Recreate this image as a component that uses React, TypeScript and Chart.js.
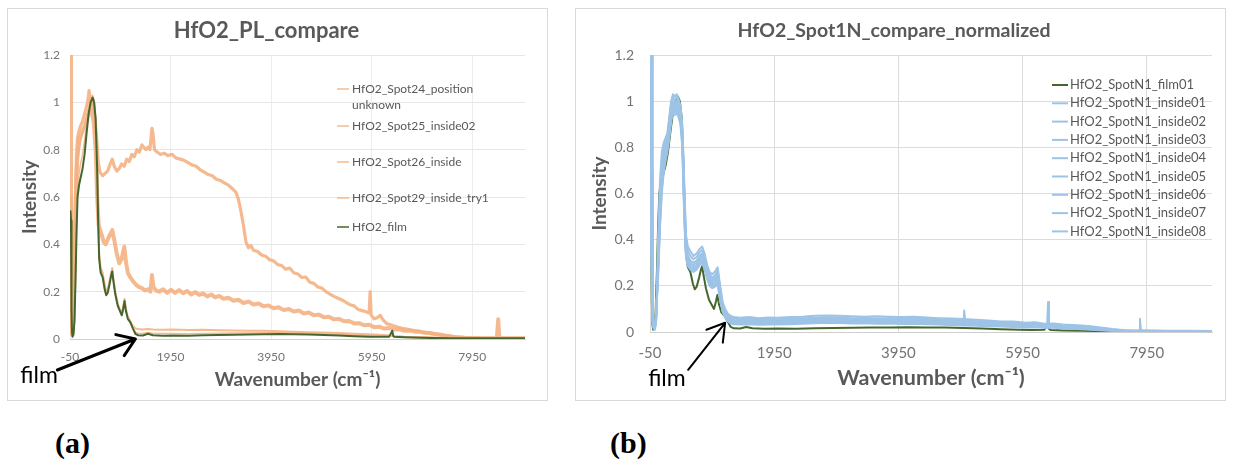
import React, { useEffect, useRef } from 'react';
import { Chart, registerables } from 'chart.js';

Chart.register(...registerables);

const FONT = "Lato, 'DejaVu Sans', sans-serif";

// ---------- axes ----------
const xTicks = [-50, 1950, 3950, 5950, 7950];
const xTickLabels = ['-50', '1950', '3950', '5950', '7950'];
const yTicks = [0, 0.2, 0.4, 0.6, 0.8, 1, 1.2];
const yTickLabels = ['0', '0.2', '0.4', '0.6', '0.8', '1', '1.2'];
const X_MIN = -50;
const X_MAX = 9000;
const Y_MIN = 0;
const Y_MAX = 1.2;

const titleA = 'HfO2_PL_compare';
const titleB = 'HfO2_Spot1N_compare_normalized';
const xTitle = 'Wavenumber (cm\u207B\u00B9)';
const yTitle = 'Intensity';
const annotText = 'film';
const captions = ['(a)', '(b)'];

const labelsA = [
  'HfO2_Spot24_position\nunknown',
  'HfO2_Spot25_inside02',
  'HfO2_Spot26_inside',
  'HfO2_Spot29_inside_try1',
  'HfO2_film',
];
const labelsB = [
  'HfO2_SpotN1_film01',
  'HfO2_SpotN1_inside01',
  'HfO2_SpotN1_inside02',
  'HfO2_SpotN1_inside03',
  'HfO2_SpotN1_inside04',
  'HfO2_SpotN1_inside05',
  'HfO2_SpotN1_inside06',
  'HfO2_SpotN1_inside07',
  'HfO2_SpotN1_inside08',
];

// ---------- film spectrum (shared x grid, also used by Spot26 / Spot29) ----------
const xFilm = [-50, -40, -30, -20, -10, 0, 20, 40, 60, 80,
  100, 130, 160, 200, 240, 280, 320, 360, 400, 430,
  460, 490, 510, 530, 560, 600, 640, 670, 700, 740,
  770, 790, 810, 850, 900, 950, 980, 1010, 1035, 1060,
  1100, 1150, 1200, 1250, 1300, 1400, 1500, 1600, 1800, 2000,
  2300, 2600, 2900, 3200, 3500, 3800, 4100, 4400, 4700, 5000,
  5300, 5600, 5900, 6100, 6300, 6360, 6380, 6400, 6600, 6900,
  7200, 7500, 7800, 8100, 8400, 8700, 9000];
const yFilm = [0.46, 0.54, 0.5, 0.12, 0.03, 0.01, 0.02, 0.08, 0.25, 0.45,
  0.6, 0.65, 0.68, 0.72, 0.78, 0.87, 0.95, 1.0, 1.02, 1.0,
  0.93, 0.72, 0.5, 0.34, 0.28, 0.26, 0.21, 0.185, 0.195, 0.235,
  0.27, 0.285, 0.25, 0.19, 0.14, 0.115, 0.1, 0.13, 0.16, 0.12,
  0.085, 0.07, 0.045, 0.022, 0.016, 0.015, 0.022, 0.016, 0.014, 0.015,
  0.014, 0.016, 0.017, 0.018, 0.019, 0.02, 0.021, 0.02, 0.019, 0.017,
  0.015, 0.012, 0.01, 0.009, 0.01, 0.035, 0.012, 0.009, 0.007, 0.005,
  0.004, 0.003, 0.003, 0.003, 0.003, 0.003, 0.003];
const yS26 = [0.55, 0.6, 0.45, 0.1, 0.03, 0.02, 0.05, 0.2, 0.45, 0.65,
  0.75, 0.8, 0.84, 0.87, 0.9, 0.93, 0.97, 1.0, 1.0, 0.97,
  0.9, 0.7, 0.5, 0.36, 0.3, 0.28, 0.23, 0.2, 0.21, 0.25,
  0.28, 0.3, 0.26, 0.2, 0.15, 0.12, 0.11, 0.14, 0.17, 0.13,
  0.095, 0.075, 0.055, 0.045, 0.042, 0.04, 0.042, 0.04, 0.039, 0.04,
  0.038, 0.039, 0.037, 0.036, 0.035, 0.035, 0.033, 0.031, 0.029, 0.027,
  0.025, 0.022, 0.02, 0.018, 0.015, 0.015, 0.014, 0.013, 0.01, 0.008,
  0.006, 0.005, 0.004, 0.003, 0.003, 0.003, 0.003];
const yS29 = [0.5, 0.56, 0.52, 0.1, 0.03, 0.01, 0.03, 0.1, 0.3, 0.5,
  0.64, 0.7, 0.74, 0.78, 0.84, 0.9, 0.97, 1.02, 1.03, 1.01,
  0.94, 0.74, 0.52, 0.35, 0.29, 0.27, 0.22, 0.19, 0.2, 0.24,
  0.275, 0.29, 0.255, 0.195, 0.145, 0.12, 0.105, 0.135, 0.165, 0.125,
  0.09, 0.072, 0.048, 0.028, 0.024, 0.023, 0.028, 0.024, 0.023, 0.023,
  0.022, 0.023, 0.024, 0.025, 0.025, 0.026, 0.026, 0.025, 0.024, 0.022,
  0.02, 0.017, 0.014, 0.012, 0.012, 0.014, 0.012, 0.011, 0.009, 0.007,
  0.005, 0.004, 0.003, 0.003, 0.003, 0.003, 0.003];

// ---------- Spot24 (upper orange) ----------
const xS24 = [-50, -40, -35, -28, -22, -10, 0, 20, 40, 60,
  80, 100, 130, 160, 200, 250, 300, 330, 360, 400,
  440, 480, 510, 540, 560, 600, 650, 700, 750, 790,
  830, 880, 930, 980, 1030, 1080, 1130, 1180, 1230, 1280,
  1330, 1380, 1420, 1460, 1500, 1540, 1580, 1600, 1630, 1680,
  1750, 1820, 1900, 1980, 2060, 2140, 2220, 2300, 2380, 2460,
  2540, 2620, 2700, 2780, 2860, 2940, 3020, 3100, 3180, 3250,
  3300, 3350, 3400, 3450, 3500, 3550, 3600, 3680, 3760, 3840,
  3920, 4000, 4080, 4160, 4240, 4320, 4400, 4480, 4560, 4640,
  4720, 4800, 4880, 4960, 5040, 5120, 5200, 5280, 5360, 5440,
  5520, 5600, 5680, 5760, 5840, 5900, 5920, 5940, 6000, 6060,
  6120, 6180, 6250, 6330, 6400, 6480, 6560, 6650, 6750, 6850,
  6950, 7100, 7250, 7400, 7550, 7700, 7900, 8200, 8500, 9000];
const yS24 = [0.57, 0.62, 1.5, 1.5, 0.06, 0.02, 0.02, 0.1, 0.35, 0.62,
  0.78, 0.85, 0.88, 0.9, 0.92, 0.96, 1.0, 1.05, 1.0, 0.98,
  0.94, 0.85, 0.75, 0.71, 0.7, 0.69, 0.7, 0.71, 0.74, 0.76,
  0.73, 0.71, 0.72, 0.74, 0.73, 0.76, 0.75, 0.78, 0.77, 0.8,
  0.79, 0.82, 0.81, 0.8, 0.81, 0.8, 0.89, 0.87, 0.8, 0.79,
  0.78, 0.785, 0.775, 0.78, 0.765, 0.76, 0.755, 0.745, 0.735, 0.73,
  0.715, 0.705, 0.695, 0.69, 0.675, 0.67, 0.66, 0.65, 0.635, 0.62,
  0.59, 0.54, 0.48, 0.41, 0.385, 0.395, 0.375, 0.37, 0.355, 0.35,
  0.335, 0.33, 0.315, 0.31, 0.295, 0.3, 0.28, 0.275, 0.26, 0.262,
  0.24, 0.235, 0.22, 0.215, 0.2, 0.19, 0.18, 0.172, 0.165, 0.155,
  0.145, 0.14, 0.125, 0.12, 0.115, 0.11, 0.2, 0.1, 0.085, 0.09,
  0.1, 0.08, 0.065, 0.06, 0.055, 0.05, 0.045, 0.042, 0.038, 0.035,
  0.03, 0.026, 0.02, 0.015, 0.01, 0.006, 0.004, 0.003, 0.003, 0.003];

// ---------- Spot25 (0.2 band orange) ----------
const xS25 = [-50, -40, -30, -20, -10, 0, 20, 40, 60, 80,
  100, 130, 160, 200, 250, 300, 340, 380, 420, 460,
  490, 520, 550, 580, 620, 660, 700, 740, 790, 830,
  880, 930, 980, 1030, 1060, 1100, 1150, 1200, 1260, 1320,
  1380, 1440, 1500, 1550, 1580, 1610, 1660, 1720, 1800, 1880,
  1960, 2040, 2120, 2200, 2280, 2360, 2440, 2520, 2600, 2680,
  2760, 2840, 2920, 3000, 3100, 3200, 3300, 3400, 3500, 3600,
  3700, 3800, 3900, 4000, 4100, 4200, 4300, 4400, 4500, 4600,
  4700, 4800, 4900, 5000, 5100, 5200, 5300, 5400, 5500, 5600,
  5700, 5800, 5900, 6000, 6100, 6200, 6300, 6400, 6500, 6600,
  6700, 6800, 6900, 7000, 7100, 7200, 7300, 7400, 7500, 7600,
  7700, 7800, 8000, 8200, 8440, 8467, 8490, 8700, 9000];
const yS25 = [0.55, 0.58, 0.4, 0.08, 0.02, 0.02, 0.08, 0.3, 0.55, 0.7,
  0.78, 0.84, 0.86, 0.88, 0.9, 0.94, 0.97, 0.96, 0.92, 0.8,
  0.6, 0.48, 0.46, 0.44, 0.41, 0.4, 0.42, 0.44, 0.46, 0.42,
  0.36, 0.32, 0.34, 0.39, 0.33, 0.28, 0.26, 0.245, 0.23, 0.22,
  0.215, 0.205, 0.21, 0.2, 0.27, 0.22, 0.205, 0.2, 0.21, 0.195,
  0.208, 0.195, 0.207, 0.193, 0.203, 0.188, 0.198, 0.186, 0.192, 0.18,
  0.188, 0.176, 0.182, 0.17, 0.174, 0.162, 0.166, 0.152, 0.158, 0.146,
  0.15, 0.138, 0.142, 0.13, 0.134, 0.122, 0.127, 0.116, 0.12, 0.108,
  0.112, 0.1, 0.103, 0.092, 0.094, 0.083, 0.085, 0.075, 0.076, 0.066,
  0.067, 0.058, 0.06, 0.05, 0.052, 0.044, 0.046, 0.04, 0.041, 0.035,
  0.036, 0.031, 0.031, 0.026, 0.025, 0.021, 0.019, 0.015, 0.012, 0.009,
  0.007, 0.005, 0.004, 0.003, 0.003, 0.083, 0.003, 0.003, 0.003];

// ---------- panel (b): blue "inside" spectra on a shared x grid ----------
const xB = [-50, -40, -25, -15, -5, 10, 30, 50, 80, 110,
  140, 170, 200, 230, 260, 290, 320, 350, 380, 410,
  440, 470, 490, 510, 530, 560, 600, 650, 700, 750,
  790, 830, 870, 910, 950, 990, 1040, 1080, 1120, 1160,
  1200, 1250, 1300, 1400, 1550, 1700, 1850, 2000, 2200, 2400,
  2600, 2800, 3000, 3200, 3400, 3600, 3800, 4000, 4200, 4400,
  4600, 4800, 5000, 5200, 5400, 5600, 5800, 6000, 6150, 6300,
  6450, 6600, 6750, 6900, 7050, 7200, 7400, 7600, 7800, 8000,
  8300, 8600, 9000];
const yIn01 = [0.85, 0.8, 1.5, 1.5, 0.1, 0.02, 0.01, 0.06, 0.4, 0.65,
  0.78, 0.82, 0.84, 0.86, 0.93, 1.0, 1.03, 1.02, 1.03, 1.01,
  0.98, 0.9, 0.75, 0.58, 0.42, 0.37, 0.35, 0.33, 0.34, 0.36,
  0.37, 0.34, 0.29, 0.26, 0.25, 0.26, 0.28, 0.2, 0.13, 0.1,
  0.08, 0.07, 0.065, 0.062, 0.065, 0.06, 0.063, 0.062, 0.065, 0.066,
  0.07, 0.072, 0.07, 0.068, 0.066, 0.068, 0.066, 0.065, 0.066, 0.063,
  0.06, 0.058, 0.056, 0.053, 0.05, 0.046, 0.045, 0.04, 0.042, 0.036,
  0.037, 0.032, 0.03, 0.028, 0.025, 0.02, 0.013, 0.008, 0.006, 0.006,
  0.005, 0.005, 0.004];
const yIn02 = [0.8, 0.75, 0.9, 0.7, 0.08, 0.02, 0.015, 0.05, 0.35, 0.6,
  0.74, 0.8, 0.83, 0.85, 0.92, 0.99, 1.02, 1.0, 1.02, 1.0,
  0.97, 0.88, 0.72, 0.55, 0.4, 0.35, 0.33, 0.315, 0.325, 0.345,
  0.355, 0.325, 0.28, 0.25, 0.235, 0.245, 0.265, 0.19, 0.12, 0.09,
  0.072, 0.062, 0.058, 0.055, 0.058, 0.054, 0.057, 0.055, 0.058, 0.06,
  0.062, 0.064, 0.063, 0.06, 0.061, 0.059, 0.06, 0.058, 0.059, 0.056,
  0.054, 0.052, 0.05, 0.047, 0.045, 0.041, 0.04, 0.036, 0.038, 0.032,
  0.033, 0.028, 0.027, 0.024, 0.021, 0.017, 0.011, 0.007, 0.005, 0.005,
  0.004, 0.004, 0.004];
const yIn03 = [0.75, 0.7, 0.6, 0.5, 0.06, 0.015, 0.02, 0.06, 0.3, 0.55,
  0.7, 0.78, 0.82, 0.84, 0.9, 0.97, 1.0, 0.99, 1.0, 0.98,
  0.95, 0.86, 0.7, 0.52, 0.38, 0.33, 0.31, 0.3, 0.31, 0.33,
  0.34, 0.31, 0.27, 0.24, 0.225, 0.235, 0.25, 0.18, 0.115, 0.085,
  0.066, 0.056, 0.052, 0.05, 0.052, 0.049, 0.051, 0.05, 0.052, 0.054,
  0.056, 0.058, 0.057, 0.055, 0.056, 0.054, 0.055, 0.053, 0.054, 0.051,
  0.049, 0.047, 0.045, 0.043, 0.04, 0.037, 0.035, 0.032, 0.034, 0.029,
  0.03, 0.025, 0.024, 0.021, 0.018, 0.014, 0.009, 0.006, 0.004, 0.004,
  0.003, 0.003, 0.003];
const yIn04 = [0.7, 0.65, 0.5, 0.35, 0.05, 0.015, 0.02, 0.07, 0.28, 0.52,
  0.68, 0.76, 0.8, 0.83, 0.89, 0.96, 0.99, 0.98, 0.99, 0.97,
  0.94, 0.85, 0.68, 0.5, 0.36, 0.32, 0.3, 0.29, 0.3, 0.32,
  0.33, 0.3, 0.26, 0.23, 0.215, 0.225, 0.24, 0.17, 0.11, 0.08,
  0.06, 0.05, 0.047, 0.045, 0.047, 0.044, 0.046, 0.045, 0.047, 0.049,
  0.051, 0.053, 0.052, 0.05, 0.051, 0.049, 0.05, 0.048, 0.049, 0.047,
  0.045, 0.043, 0.041, 0.039, 0.036, 0.034, 0.032, 0.029, 0.031, 0.026,
  0.027, 0.023, 0.022, 0.019, 0.016, 0.012, 0.008, 0.005, 0.004, 0.003,
  0.003, 0.003, 0.003];
const yIn05 = [0.65, 0.6, 0.45, 0.3, 0.05, 0.02, 0.02, 0.07, 0.27, 0.5,
  0.66, 0.74, 0.78, 0.82, 0.88, 0.95, 0.98, 0.97, 0.98, 0.96,
  0.93, 0.84, 0.66, 0.48, 0.35, 0.31, 0.29, 0.28, 0.29, 0.31,
  0.32, 0.29, 0.25, 0.22, 0.205, 0.215, 0.23, 0.16, 0.1, 0.075,
  0.056, 0.046, 0.043, 0.041, 0.043, 0.04, 0.042, 0.041, 0.043, 0.045,
  0.047, 0.049, 0.048, 0.046, 0.047, 0.045, 0.046, 0.044, 0.045, 0.043,
  0.041, 0.039, 0.037, 0.035, 0.033, 0.031, 0.029, 0.026, 0.028, 0.024,
  0.025, 0.021, 0.02, 0.017, 0.014, 0.011, 0.007, 0.005, 0.003, 0.003,
  0.003, 0.003, 0.003];
const yIn06 = [0.6, 0.55, 0.4, 0.25, 0.04, 0.02, 0.025, 0.08, 0.26, 0.48,
  0.64, 0.72, 0.76, 0.8, 0.86, 0.93, 0.97, 0.96, 0.97, 0.95,
  0.92, 0.83, 0.64, 0.46, 0.34, 0.3, 0.28, 0.27, 0.28, 0.3,
  0.31, 0.28, 0.24, 0.21, 0.2, 0.205, 0.22, 0.15, 0.095, 0.07,
  0.052, 0.043, 0.04, 0.038, 0.04, 0.037, 0.039, 0.038, 0.04, 0.042,
  0.044, 0.046, 0.045, 0.043, 0.044, 0.042, 0.043, 0.041, 0.042, 0.04,
  0.038, 0.036, 0.034, 0.032, 0.03, 0.028, 0.027, 0.024, 0.026, 0.022,
  0.023, 0.019, 0.018, 0.015, 0.013, 0.01, 0.006, 0.004, 0.003, 0.003,
  0.003, 0.003, 0.003];
const yIn07 = [0.55, 0.5, 0.35, 0.2, 0.04, 0.02, 0.03, 0.08, 0.25, 0.46,
  0.62, 0.7, 0.75, 0.79, 0.85, 0.92, 0.96, 0.95, 0.96, 0.94,
  0.91, 0.82, 0.62, 0.45, 0.33, 0.29, 0.275, 0.265, 0.275, 0.295,
  0.305, 0.275, 0.235, 0.205, 0.195, 0.2, 0.21, 0.145, 0.09, 0.066,
  0.049, 0.04, 0.037, 0.035, 0.037, 0.034, 0.036, 0.035, 0.037, 0.039,
  0.041, 0.043, 0.042, 0.04, 0.041, 0.039, 0.04, 0.038, 0.039, 0.037,
  0.035, 0.033, 0.031, 0.03, 0.028, 0.026, 0.025, 0.022, 0.024, 0.02,
  0.021, 0.017, 0.016, 0.014, 0.012, 0.009, 0.006, 0.004, 0.003, 0.003,
  0.003, 0.003, 0.003];
const yIn08 = [0.5, 0.48, 0.3, 0.15, 0.03, 0.02, 0.03, 0.09, 0.24, 0.45,
  0.6, 0.69, 0.74, 0.78, 0.84, 0.91, 0.95, 0.94, 0.95, 0.93,
  0.9, 0.8, 0.6, 0.44, 0.32, 0.285, 0.27, 0.26, 0.27, 0.29,
  0.3, 0.27, 0.23, 0.2, 0.19, 0.195, 0.205, 0.14, 0.088, 0.063,
  0.047, 0.037, 0.034, 0.032, 0.034, 0.031, 0.033, 0.032, 0.034, 0.036,
  0.038, 0.04, 0.039, 0.037, 0.038, 0.036, 0.037, 0.035, 0.036, 0.034,
  0.032, 0.03, 0.028, 0.027, 0.025, 0.024, 0.022, 0.02, 0.021, 0.018,
  0.019, 0.015, 0.014, 0.012, 0.01, 0.008, 0.005, 0.004, 0.003, 0.003,
  0.003, 0.003, 0.003];
// narrow spikes present in one of the inside spectra
const xSpikeB = [4995, 5010, 5025, 6345, 6360, 6375, 7825, 7840, 7855];
const ySpikeB = [0.05, 0.093, 0.05, 0.035, 0.13, 0.035, 0.006, 0.057, 0.006];

// ---------- styling ----------
const ORANGE = 'rgba(244,177,131,0.9)';
const GREEN = '#45672f';
const BLUE = '#9DC3E6';
const TEXT = '#595959';
const TICK = '#747474';

type Pt = { x: number; y: number };
const pts = (xs: number[], ys: number[]): Pt[] => xs.map((x, i) => ({ x, y: ys[i] }));
const merged = (xs: number[], ys: number[], ex: number[], ey: number[]): Pt[] =>
  pts(xs, ys).concat(pts(ex, ey)).sort((a, b) => a.x - b.x);

const sideLegend = {
  id: 'sideLegend',
  afterDraw(chart: any, _a: any, o: any) {
    if (!o || !o.rows) return;
    const ctx = chart.ctx;
    ctx.save();
    ctx.font = o.font;
    ctx.textBaseline = 'middle';
    ctx.textAlign = 'left';
    chart.data.datasets.forEach((ds: any, k: number) => {
      const y = o.rows[k];
      ctx.strokeStyle = ds.borderColor;
      ctx.lineWidth = o.lineWidth;
      ctx.beginPath();
      ctx.moveTo(o.lineX, y);
      ctx.lineTo(o.lineX + o.lineLen, y);
      ctx.stroke();
      ctx.fillStyle = TEXT;
      String(ds.label).split('\n').forEach((t: string, j: number) => ctx.fillText(t, o.textX, y + j * o.wrapGap));
    });
    ctx.restore();
  },
};

const filmArrow = {
  id: 'filmArrow',
  afterDraw(chart: any, _a: any, o: any) {
    if (!o || !o.text) return;
    const { ctx, scales } = chart;
    const tx = scales.x.getPixelForValue(o.tip[0]);
    const ty = scales.y.getPixelForValue(o.tip[1]);
    const sx = tx + o.tail[0];
    const sy = ty + o.tail[1];
    const ang = Math.atan2(ty - sy, tx - sx);
    ctx.save();
    ctx.strokeStyle = '#000';
    ctx.lineWidth = o.width;
    ctx.lineCap = 'round';
    ctx.lineJoin = 'round';
    ctx.beginPath();
    ctx.moveTo(sx, sy);
    ctx.lineTo(tx, ty);
    [-1, 1].forEach((s) => {
      ctx.moveTo(tx, ty);
      ctx.lineTo(tx - o.head * Math.cos(ang + s * o.headAngle), ty - o.head * Math.sin(ang + s * o.headAngle));
    });
    ctx.stroke();
    ctx.fillStyle = '#000';
    ctx.font = o.font;
    ctx.textAlign = 'left';
    ctx.textBaseline = 'alphabetic';
    ctx.fillText(o.text, tx + o.textAt[0], ty + o.textAt[1]);
    ctx.restore();
  },
};

function baseOptions(p: any) {
  return {
    animation: false,
    responsive: false,
    maintainAspectRatio: false,
    events: [],
    layout: { padding: { left: 0, right: p.padRight, top: 0, bottom: 0 } },
    elements: { point: { radius: 0 }, line: { tension: 0, borderJoinStyle: 'round' } },
    scales: {
      x: {
        type: 'linear',
        min: X_MIN,
        max: X_MAX,
        afterBuildTicks: (s: any) => { s.ticks = xTicks.map((v) => ({ value: v })); },
        afterFit: (s: any) => { s.height = p.xHeight; },
        grid: { color: p.gridX, drawTicks: false },
        border: { display: true, color: '#CFCFCF' },
        ticks: {
          padding: p.xTickPad, color: TICK, maxRotation: 0, autoSkip: false,
          font: { family: FONT, size: p.xTickSize },
          callback: (_v: any, i: number) => xTickLabels[i],
        },
        title: {
          display: true, text: xTitle, color: TEXT,
          font: { family: FONT, size: p.xTitleSize, weight: 'bold' },
          padding: { top: 0, bottom: p.xTitlePad },
        },
      },
      y: {
        type: 'linear',
        min: Y_MIN,
        max: Y_MAX,
        afterBuildTicks: (s: any) => { s.ticks = yTicks.map((v) => ({ value: v })); },
        afterFit: (s: any) => { s.width = p.yWidth; },
        grid: { color: p.gridY, drawTicks: false },
        border: { display: false },
        ticks: {
          padding: p.yTickPad, color: TICK,
          font: { family: FONT, size: p.yTickSize },
          callback: (_v: any, i: number) => yTickLabels[i],
        },
        title: {
          display: true, text: yTitle, color: TEXT,
          font: { family: FONT, size: 19, weight: 'bold' },
          padding: { top: p.yTitlePad, bottom: 0 },
        },
      },
    },
    plugins: {
      legend: { display: false },
      tooltip: { enabled: false },
      title: {
        display: true, text: p.title, color: TEXT,
        font: { family: FONT, size: p.titleSize, weight: 'bold' },
        padding: { top: p.titlePadTop, bottom: p.titlePadBottom },
      },
      sideLegend: p.legend,
      filmArrow: p.arrow,
    },
  };
}

export default function App() {
  const refA = useRef<HTMLCanvasElement | null>(null);
  const refB = useRef<HTMLCanvasElement | null>(null);

  useEffect(() => {
    const line = (label: string, data: Pt[], color: string, width: number, order: number) => ({
      label, data, borderColor: color, backgroundColor: color, borderWidth: width, order, fill: false,
    });

    const chartA = new Chart(refA.current as HTMLCanvasElement, {
      type: 'line',
      data: {
        datasets: [
          line(labelsA[0], pts(xS24, yS24), ORANGE, 3.2, 1),
          line(labelsA[1], pts(xS25, yS25), ORANGE, 4, 1),
          line(labelsA[2], pts(xFilm, yS26), ORANGE, 2, 1),
          line(labelsA[3], pts(xFilm, yS29), ORANGE, 1.5, 1),
          line(labelsA[4], pts(xFilm, yFilm), GREEN, 2, 0),
        ],
      },
      options: baseOptions({
        title: titleA, titleSize: 22, titlePadTop: 8.8, titlePadBottom: 10.8,
        padRight: 22, xHeight: 61, yWidth: 62,
        gridX: '#EDEDED', gridY: '#E6E6E6',
        xTickPad: 10.8, xTickSize: 12, yTickPad: 10, yTickSize: 12,
        xTitleSize: 19, xTitlePad: 8.6, yTitlePad: 10.6,
        legend: { rows: [80, 117, 153, 189, 218], lineX: 329, lineLen: 12, textX: 344, wrapGap: 16, lineWidth: 1.5, font: `12px ${FONT}` },
        arrow: { text: annotText, tip: [1250, 0], tail: [-78, 31], head: 20, headAngle: 0.6, width: 3, textAt: [-115, 44], font: `23px ${FONT}` },
      }) as any,
      plugins: [sideLegend, filmArrow],
    } as any);

    const blues = [yIn01, yIn02, yIn03, yIn04, yIn05, yIn06, yIn07, yIn08];
    const chartB = new Chart(refB.current as HTMLCanvasElement, {
      type: 'line',
      data: {
        datasets: [
          line(labelsB[0], pts(xFilm, yFilm), GREEN, 2, 1),
          ...blues.map((ys, i) =>
            line(labelsB[i + 1], i === 2 ? merged(xB, ys, xSpikeB, ySpikeB) : pts(xB, ys), BLUE, 2, 0)),
        ],
      },
      options: baseOptions({
        title: titleB, titleSize: 19.5, titlePadTop: 10.3, titlePadBottom: 12.3,
        padRight: 13, xHeight: 68, yWidth: 74,
        gridX: '#DCDCDC', gridY: '#DCDCDC',
        xTickPad: 12, xTickSize: 15, yTickPad: 16, yTickSize: 14,
        xTitleSize: 21.5, xTitlePad: 9.1, yTitlePad: 12.6,
        legend: { rows: [76, 94.3, 112.6, 130.9, 149.2, 167.5, 185.8, 204.1, 222.4], lineX: 476, lineLen: 16, textX: 494, wrapGap: 16, lineWidth: 2, font: `13px ${FONT}` },
        arrow: { text: annotText, tip: [1160, 0.04], tail: [-37, 47], head: 20, headAngle: 0.55, width: 2, textAt: [-77, 63], font: `23px ${FONT}` },
      }) as any,
      plugins: [sideLegend, filmArrow],
    } as any);

    return () => {
      chartA.destroy();
      chartB.destroy();
    };
  }, []);

  const panel = (left: number, w: number): React.CSSProperties => ({
    position: 'absolute', left, top: 8, width: w, height: 391, border: '1px solid #D9D9D9', background: '#fff',
  });
  const cap = (left: number): React.CSSProperties => ({
    position: 'absolute', left, top: 428, font: "bold 30px 'Liberation Serif', 'Times New Roman', serif",
    lineHeight: '30px', color: '#000',
  });

  return (
    <div style={{ position: 'absolute', left: 0, top: 0, width: 1233, height: 463, background: '#fff', overflow: 'hidden' }}>
      <div style={panel(7, 539)}>
        <canvas ref={refA} width={539} height={391} style={{ display: 'block', width: 539, height: 391 }} />
      </div>
      <div style={panel(575, 649)}>
        <canvas ref={refB} width={649} height={391} style={{ display: 'block', width: 649, height: 391 }} />
      </div>
      <div style={cap(55)}>{captions[0]}</div>
      <div style={cap(610)}>{captions[1]}</div>
    </div>
  );
}
